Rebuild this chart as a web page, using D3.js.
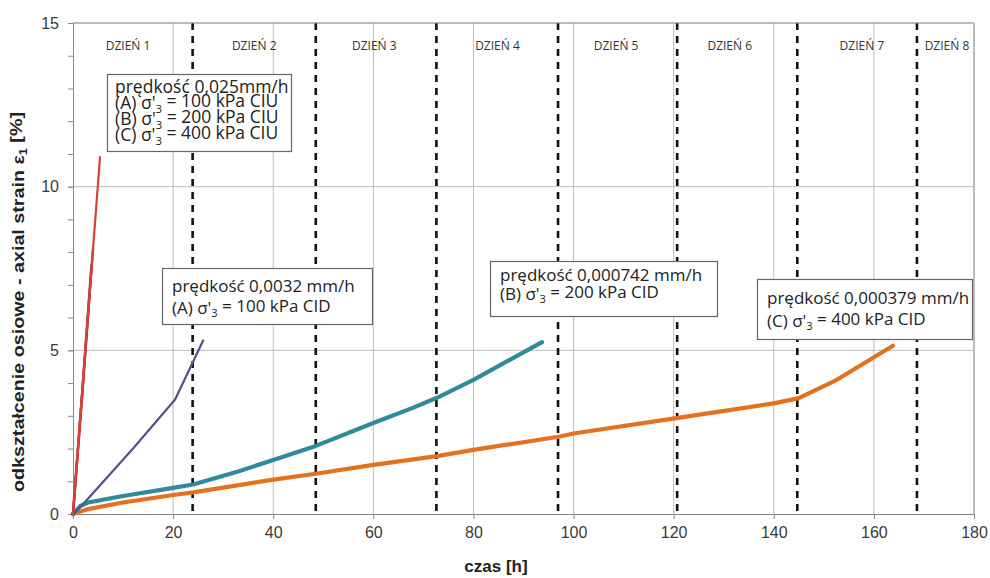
<!DOCTYPE html>
<html>
<head>
<meta charset="utf-8">
<title>odkształcenie osiowe</title>
<script src="https://d3js.org/d3.v7.min.js"></script>
<style>
  body { margin: 0; background: #fff; }
  text { font-family: "Liberation Sans", Arial, sans-serif; }
  .note text { font-family: "Open Sans", "Noto Sans", sans-serif; fill: #222; }
</style>
</head>
<body>
<div id="chart"></div>
<script>
// czas [h] / odkształcenie [%]
var ciuA = [[0, 0], [2.6, 5.3], [5.4, 10.9]];
var ciuB = [[0, 0], [2.0, 4.0], [4.0, 8.1]];
var ciuC = [[0, 0], [1.9, 3.8], [3.7, 7.6]];
var cidA = [[0, 0], [2, 0.3], [12, 2.0], [20.4, 3.5], [26, 5.3]];
var cidB = [[0, 0], [1.5, 0.25], [3, 0.35], [10, 0.55], [20, 0.8], [24, 0.9], [33, 1.3], [40, 1.65],
            [48.5, 2.08], [60, 2.78], [68, 3.25], [72.7, 3.55], [80, 4.1], [93.7, 5.25]];
var cidC = [[0, 0], [3, 0.15], [10, 0.35], [20, 0.58], [24, 0.66], [40, 1.05], [48.5, 1.23], [60, 1.5],
            [72.7, 1.77], [80, 1.96], [97, 2.36], [100, 2.46], [120.5, 2.93], [140, 3.38], [145, 3.54],
            [152.6, 4.1], [163.8, 5.14]];

var dayLines = [23.9, 48.5, 72.6, 96.9, 120.7, 144.7, 168.6];
var dayNames = ["DZIEŃ 1", "DZIEŃ 2", "DZIEŃ 3", "DZIEŃ 4", "DZIEŃ 5", "DZIEŃ 6", "DZIEŃ 7", "DZIEŃ 8"];
var dayLabelX = [11, 36.2, 60.2, 84.8, 108.5, 131.2, 157.6, 174.6];

var xTicks = [0, 20, 40, 60, 80, 100, 120, 140, 160, 180];
var yTicks = [0, 5, 10, 15];

var width = 990, height = 578;
var margin = { top: 23, right: 16, bottom: 64, left: 73 };
var w = width - margin.left - margin.right,
    h = height - margin.top - margin.bottom;

var svg = d3.select("#chart").append("svg")
    .attr("width", width)
    .attr("height", height);

var chart = svg.append("g")
    .attr("transform", "translate(" + margin.left + "," + margin.top + ")");

var x = d3.scaleLinear().domain([0, 180]).range([0, w]);
var y = d3.scaleLinear().domain([0, 15]).range([h, 0]);

// grid
chart.append("g").selectAll("line")
    .data(xTicks.slice(1))
    .enter().append("line")
    .attr("x1", d => x(d)).attr("x2", d => x(d))
    .attr("y1", 0).attr("y2", h)
    .attr("stroke", "#bdbdbd").attr("stroke-width", 1);
chart.append("g").selectAll("line")
    .data(yTicks.slice(1))
    .enter().append("line")
    .attr("x1", 0).attr("x2", w)
    .attr("y1", d => y(d)).attr("y2", d => y(d))
    .attr("stroke", "#bdbdbd").attr("stroke-width", 1);

// axes
var xAxis = chart.append("g")
    .attr("transform", "translate(0," + h + ")")
    .call(d3.axisBottom(x).tickValues(xTicks).tickSize(5).tickPadding(5));
var yMinor = chart.append("g")
    .call(d3.axisLeft(y).ticks(15).tickSize(5).tickFormat(""));
var yAxis = chart.append("g")
    .call(d3.axisLeft(y).tickValues(yTicks).tickSize(5).tickPadding(6));
[xAxis, yAxis, yMinor].forEach(function (a) {
    a.select(".domain").attr("stroke", "#888");
    a.selectAll(".tick line").attr("stroke", "#888");
    a.selectAll("text").style("font-size", "16px").attr("fill", "#3a3a3a");
});
xAxis.selectAll("text").attr("dy", "0.9em");
yAxis.selectAll("text").attr("dx", "-3");

// day separators
chart.append("g").selectAll("line")
    .data(dayLines)
    .enter().append("line")
    .attr("x1", d => x(d)).attr("x2", d => x(d))
    .attr("y1", 0).attr("y2", h)
    .attr("stroke", "#111").attr("stroke-width", 2.6)
    .attr("stroke-dasharray", "7,6");

chart.append("g").selectAll("text")
    .data(dayNames)
    .enter().append("text")
    .attr("x", (d, i) => x(dayLabelX[i]))
    .attr("y", y(14.3))
    .attr("dy", "0.35em")
    .attr("text-anchor", "middle")
    .style("font-family", "'Open Sans', sans-serif")
    .style("font-size", "12px")
    .attr("fill", "#333")
    .text(d => d);

// series
var line = d3.line().x(d => x(d[0])).y(d => y(d[1]));
var series = [
    { data: cidC, color: "#e4711d", width: 4.2 },
    { data: cidB, color: "#2f8a9c", width: 4.2 },
    { data: cidA, color: "#5e4d86", width: 2.2 },
    { data: ciuC, color: "#8e2a2a", width: 2.6 },
    { data: ciuB, color: "#b23a3a", width: 2.4 },
    { data: ciuA, color: "#d8413a", width: 2.2 }
];
chart.append("g").selectAll("path")
    .data(series)
    .enter().append("path")
    .attr("d", d => line(d.data))
    .attr("fill", "none")
    .attr("stroke", d => d.color)
    .attr("stroke-width", d => d.width)
    .attr("stroke-linejoin", "round")
    .attr("stroke-linecap", "round");

// plot frame (top / right)
chart.append("path")
    .attr("d", "M0,0H" + w + "V" + h)
    .attr("fill", "none")
    .attr("stroke", "#999");

// annotation boxes
var notes = [
    { x0: 107, y0: 74, x1: 291, y1: 151, size: 17.5, pad: 8, lines: [
        { t: "prędkość 0,025mm/h", y: 87 },
        { pre: "(A) σ'", sub: "3", post: " = 100 kPa CIU", y: 103 },
        { pre: "(B) σ'", sub: "3", post: " = 200 kPa CIU", y: 119 },
        { pre: "(C) σ'", sub: "3", post: " = 400 kPa CIU", y: 135 }] },
    { x0: 162, y0: 268, x1: 372, y1: 324, size: 17, pad: 10, lines: [
        { t: "prędkość 0,0032 mm/h", y: 286 },
        { pre: "(A) σ'", sub: "3", post: " = 100 kPa CID", y: 308 }] },
    { x0: 490, y0: 261, x1: 717, y1: 316, size: 17, pad: 10, lines: [
        { t: "prędkość 0,000742 mm/h", y: 275 },
        { pre: "(B) σ'", sub: "3", post: " = 200 kPa CID", y: 294 }] },
    { x0: 757, y0: 279, x1: 972, y1: 339, size: 17, pad: 10, lines: [
        { t: "prędkość 0,000379 mm/h", y: 298 },
        { pre: "(C) σ'", sub: "3", post: " = 400 kPa CID", y: 321 }] }
];
var noteG = svg.append("g").attr("class", "note");
notes.forEach(function (n) {
    noteG.append("rect")
        .attr("x", n.x0 + 0.5).attr("y", n.y0 + 0.5)
        .attr("width", n.x1 - n.x0).attr("height", n.y1 - n.y0)
        .attr("fill", "#fff").attr("stroke", "#666").attr("stroke-width", 1.2);
    n.lines.forEach(function (l) {
        var t = noteG.append("text")
            .attr("x", n.x0 + n.pad).attr("y", l.y)
            .attr("dy", "0.35em")
            .style("font-size", n.size + "px");
        if (l.t) { t.text(l.t); return; }
        t.append("tspan").text(l.pre);
        t.append("tspan").attr("dy", "0.3em").style("font-size", (n.size * 0.65) + "px").text(l.sub);
        t.append("tspan").attr("dy", "-0.3em").text(l.post);
    });
});

// axis titles
svg.append("text")
    .attr("x", 496)
    .attr("y", 572)
    .attr("text-anchor", "middle")
    .style("font-size", "17px")
    .style("font-weight", "bold")
    .attr("fill", "#222")
    .text("czas [h]");

var yt = svg.append("text")
    .attr("transform", "translate(24,302) rotate(-90)")
    .attr("text-anchor", "middle")
    .attr("textLength", 380)
    .attr("lengthAdjust", "spacingAndGlyphs")
    .style("font-size", "17px")
    .style("font-weight", "bold")
    .attr("fill", "#222");
yt.append("tspan").text("odkształcenie osiowe - axial strain ε");
yt.append("tspan").attr("dy", "0.3em").style("font-size", "11px").text("1");
yt.append("tspan").attr("dy", "-0.3em").text(" [%]");
</script>
</body>
</html>
